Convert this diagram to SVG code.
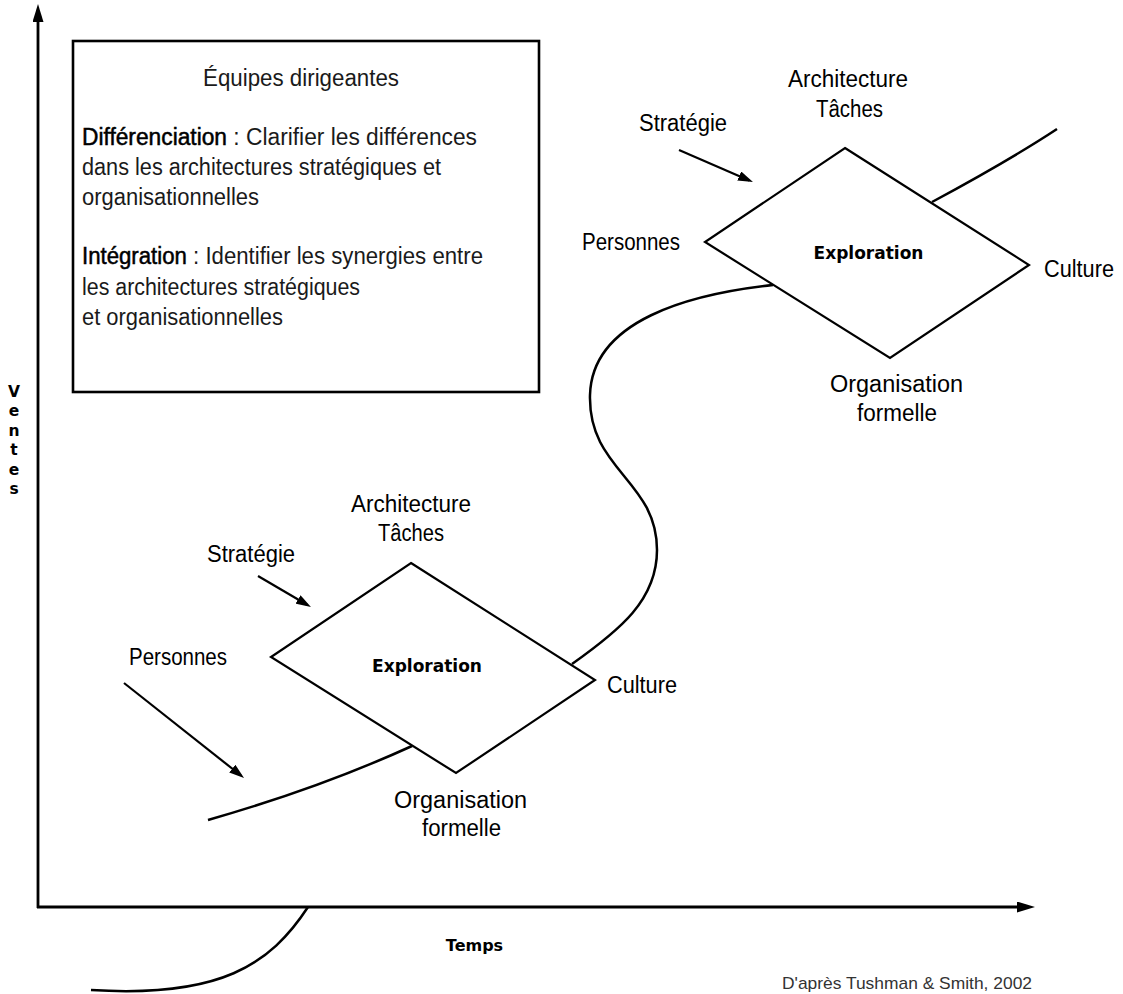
<svg xmlns="http://www.w3.org/2000/svg" width="1123" height="994" viewBox="0 0 1123 994">
  <style>
    .lbl { font-family: "Liberation Sans", Arial, sans-serif; font-size: 23px; fill: #000; }
    .txt { font-family: "Liberation Sans", Arial, sans-serif; font-size: 23px; fill: #1a1a1a; }
    .em { fill: #000; stroke: #000; stroke-width: 0.5px; }
    .bold { font-family: "DejaVu Sans", sans-serif; font-weight: bold; fill: #000; }
    .diamond { fill: #fff; stroke: #000; stroke-width: 2.2; stroke-linejoin: miter; }
    .curve { fill: none; stroke: #000; stroke-width: 2.5; stroke-linecap: butt; }
    .axis { fill: none; stroke: #000; stroke-width: 2.8; }
    .arrow { fill: none; stroke: #000; stroke-width: 2.2; }
    .foot { font-family: "Liberation Sans", Arial, sans-serif; font-size: 17px; fill: #333; }
  </style>
  <defs>
    <marker id="axisHead" markerUnits="userSpaceOnUse" viewBox="0 0 18 11" markerWidth="18" markerHeight="11" refX="10" refY="5.5" orient="auto">
      <path d="M0,0 L18,5.5 L0,11 z" fill="#000"/>
    </marker>
    <marker id="head" markerUnits="userSpaceOnUse" viewBox="0 0 15 10" markerWidth="15" markerHeight="10" refX="11" refY="5" orient="auto">
      <path d="M0,0 L15,5 L0,10 z" fill="#000"/>
    </marker>
    <polygon id="losange" points="0,0 184,117 45,210 -140,94"/>
  </defs>

  <rect width="1123" height="994" fill="#fff"/>

  <!-- axes, curves and arrows -->
  <g id="connectors">
    <path class="axis" d="M38 908 L38 12" marker-end="url(#axisHead)"/>
    <path class="axis" d="M37 907 L1027 907" marker-end="url(#axisHead)"/>

    <path class="curve" d="M91 990 C220 998 270 965 308 907"/>
    <path class="curve" d="M208 820 Q320 788 412 746"/>
    <path class="curve" d="M572 664 C620 630 657 600 657 550 C657 480 588 470 590 395 C592 320 690 294 773 285"/>
    <path class="curve" d="M932 202 Q1010 160 1057 129"/>

    <line class="arrow" x1="679" y1="150" x2="749.3" y2="180.4" marker-end="url(#head)"/>
    <line class="arrow" x1="258" y1="576" x2="307.5" y2="605" marker-end="url(#head)"/>
    <line class="arrow" x1="124" y1="683" x2="240.9" y2="775.5" marker-end="url(#head)"/>
  </g>

  <!-- axis titles -->
  <g id="axis-sales" class="bold" font-size="15.5" text-anchor="middle">
    <text x="14" y="397">V</text>
    <text x="14" y="416">e</text>
    <text x="14" y="436">n</text>
    <text x="14" y="455">t</text>
    <text x="14" y="475">e</text>
    <text x="14" y="494">s</text>
  </g>
  <g id="axis-time">
    <text class="bold" x="474.5" y="951" font-size="16" text-anchor="middle">Temps</text>
  </g>

  <!-- leadership teams box -->
  <g id="teams-box">
    <rect x="73" y="41" width="466" height="351" fill="none" stroke="#000" stroke-width="2.6"/>
    <text class="txt" x="301" y="86" text-anchor="middle" textLength="196" lengthAdjust="spacingAndGlyphs">Équipes dirigeantes</text>
    <text class="txt" x="82" y="145" textLength="395" lengthAdjust="spacingAndGlyphs"><tspan class="em">Différenciation</tspan> : Clarifier les différences</text>
    <text class="txt" x="82" y="175" textLength="359" lengthAdjust="spacingAndGlyphs">dans les architectures stratégiques et</text>
    <text class="txt" x="82" y="205" textLength="177" lengthAdjust="spacingAndGlyphs">organisationnelles</text>
    <text class="txt" x="82" y="264" textLength="401" lengthAdjust="spacingAndGlyphs"><tspan class="em">Intégration</tspan> : Identifier les synergies entre</text>
    <text class="txt" x="82" y="295" textLength="278" lengthAdjust="spacingAndGlyphs">les architectures stratégiques</text>
    <text class="txt" x="82" y="325" textLength="201" lengthAdjust="spacingAndGlyphs">et organisationnelles</text>
  </g>

  <!-- upper exploration diamond -->
  <g id="exploration-2">
    <use href="#losange" class="diamond" transform="translate(845 148)"/>
    <text class="bold" x="868.5" y="259" font-size="17" text-anchor="middle">Exploration</text>
    <text class="lbl" x="788" y="87" textLength="120" lengthAdjust="spacingAndGlyphs">Architecture</text>
    <text class="lbl" x="816" y="117" textLength="67" lengthAdjust="spacingAndGlyphs">Tâches</text>
    <text class="lbl" x="639" y="131" textLength="88" lengthAdjust="spacingAndGlyphs">Stratégie</text>
    <text class="lbl" x="582" y="250" textLength="98" lengthAdjust="spacingAndGlyphs">Personnes</text>
    <text class="lbl" x="1044" y="277" textLength="70" lengthAdjust="spacingAndGlyphs">Culture</text>
    <text class="lbl" x="830" y="392" textLength="133" lengthAdjust="spacingAndGlyphs">Organisation</text>
    <text class="lbl" x="857" y="421" textLength="80" lengthAdjust="spacingAndGlyphs">formelle</text>
  </g>

  <!-- lower exploration diamond -->
  <g id="exploration-1">
    <use href="#losange" class="diamond" transform="translate(411 563)"/>
    <text class="bold" x="427" y="672" font-size="17" text-anchor="middle">Exploration</text>
    <text class="lbl" x="351" y="512" textLength="120" lengthAdjust="spacingAndGlyphs">Architecture</text>
    <text class="lbl" x="378" y="541" textLength="66" lengthAdjust="spacingAndGlyphs">Tâches</text>
    <text class="lbl" x="207" y="562" textLength="88" lengthAdjust="spacingAndGlyphs">Stratégie</text>
    <text class="lbl" x="129" y="665" textLength="98" lengthAdjust="spacingAndGlyphs">Personnes</text>
    <text class="lbl" x="607" y="693" textLength="70" lengthAdjust="spacingAndGlyphs">Culture</text>
    <text class="lbl" x="394" y="808" textLength="133" lengthAdjust="spacingAndGlyphs">Organisation</text>
    <text class="lbl" x="422" y="836" textLength="79" lengthAdjust="spacingAndGlyphs">formelle</text>
  </g>

  <g id="source">
    <text class="foot" x="782" y="989" textLength="250" lengthAdjust="spacingAndGlyphs">D'après Tushman &amp; Smith, 2002</text>
  </g>
</svg>
